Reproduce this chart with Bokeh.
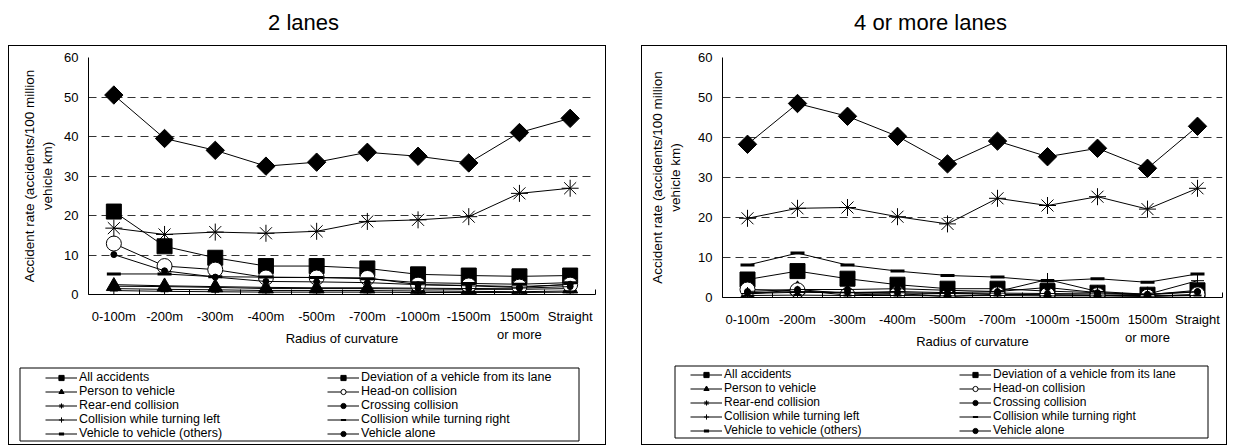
import math
from bokeh.plotting import figure
from bokeh.models import (Range1d, FixedTicker, Legend, LegendItem, Title, Spacer,
                          BoxAnnotation)
from bokeh.layouts import row, column
from bokeh.embed import file_html
from bokeh.resources import INLINE

categories = ["0-100m", "-200m", "-300m", "-400m", "-500m", "-700m",
              "-1000m", "-1500m", "1500m\nor more", "Straight"]
series_names = ["All accidents", "Deviation of a vehicle from its lane",
                "Person to vehicle", "Head-on collision",
                "Rear-end collision", "Crossing collision",
                "Collision while turning left", "Collision while turning right",
                "Vehicle to vehicle (others)", "Vehicle alone"]
y_ticks = [0, 10, 20, 30, 40, 50, 60]

# 2 lanes
all_2 = [50.5, 39.5, 36.5, 32.5, 33.5, 36.0, 35.0, 33.3, 41.0, 44.6]
dev_2 = [21.0, 12.2, 9.3, 7.2, 7.2, 6.6, 5.1, 4.8, 4.6, 4.8]
person_2 = [2.1, 2.0, 1.8, 1.5, 1.5, 1.5, 1.4, 1.3, 1.3, 1.5]
headon_2 = [12.9, 7.2, 6.3, 4.3, 4.3, 4.2, 2.5, 2.3, 2.0, 2.5]
rear_2 = [16.8, 15.2, 15.8, 15.5, 16.0, 18.5, 18.9, 19.7, 25.6, 26.9]
crossing_2 = [10.1, 6.0, 4.4, 3.3, 3.2, 3.0, 2.5, 2.2, 1.8, 2.6]
left_2 = [1.5, 1.3, 1.2, 1.0, 1.0, 1.0, 0.9, 0.8, 0.7, 0.9]
right_2 = [1.0, 0.8, 0.7, 0.6, 0.6, 0.6, 0.5, 0.5, 0.5, 0.6]
others_2 = [5.2, 5.2, 4.5, 4.4, 4.3, 4.0, 3.0, 2.8, 2.6, 3.0]
alone_2 = [2.5, 2.2, 2.0, 1.8, 1.7, 1.7, 1.6, 1.5, 1.6, 2.0]

# 4 or more lanes
all_4 = [38.3, 48.5, 45.3, 40.3, 33.4, 39.1, 35.2, 37.3, 32.3, 42.8]
dev_4 = [4.5, 6.6, 4.7, 3.2, 2.2, 2.2, 1.6, 1.2, 0.7, 1.8]
person_4 = [0.8, 2.0, 1.0, 0.8, 1.0, 0.8, 0.6, 0.5, 0.5, 0.6]
headon_4 = [2.0, 1.8, 0.6, 1.0, 0.2, 0.8, 0.7, 0.6, 0.2, 0.8]
rear_4 = [19.8, 22.3, 22.5, 20.2, 18.4, 24.8, 23.0, 25.2, 22.1, 27.3]
crossing_4 = [1.5, 2.0, 2.0, 2.2, 1.8, 1.5, 2.5, 1.2, 0.8, 1.5]
left_4 = [1.0, 1.3, 1.2, 1.5, 1.2, 1.5, 4.5, 1.5, 0.8, 4.2]
right_4 = [0.5, 0.6, 0.5, 0.5, 0.4, 0.5, 0.4, 0.4, 0.3, 0.5]
others_4 = [8.1, 11.1, 8.1, 6.6, 5.5, 5.1, 4.1, 4.7, 3.8, 5.9]
alone_4 = [1.2, 1.5, 1.3, 1.2, 1.0, 1.1, 1.0, 0.9, 0.7, 1.4]

FONT = "Liberation Sans"

# marker styles per series: (marker, size, fill, line_width, angle)
styles = [
    ("square", 13, "black", 1, math.pi / 4),
    ("square", 15, "black", 1, 0),
    ("triangle", 15, "black", 1, 0),
    ("circle", 15, "white", 1, 0),
    ("asterisk", 17, "black", 1, 0),
    ("circle", 6, "black", 1, 0),
    ("cross", 13, "black", 1, 0),
    ("dash", 8, "black", 2, 0),
    ("dash", 14, "black", 3, 0),
    ("circle", 6, "black", 1, 0),
]

# legend is filled column by column: this order reads row by row
legend_order = [0, 2, 4, 6, 8, 1, 3, 5, 7, 9]

centers = [i + 0.5 for i in range(len(categories))]
bounds = list(range(len(categories) + 1))


def add_series(p, series, visible=True):
    pairs = []
    for vals, st in zip(series, styles):
        marker, size, fill, lw, ang = st
        ln = p.line(centers, vals, line_color="black", line_width=1, visible=visible)
        sc = p.scatter(centers, vals, marker=marker, size=size, fill_color=fill,
                       line_color="black", line_width=lw, angle=ang, visible=visible)
        pairs.append((ln, sc))
    return pairs


def make_title(text, width, left):
    t = figure(width=width, height=45, output_backend="svg", toolbar_location=None,
               x_range=Range1d(0, 1), y_range=Range1d(0, 1),
               x_axis_location=None, y_axis_location=None,
               min_border_left=left, min_border_right=0, min_border_top=34,
               min_border_bottom=0)
    t.title = Title(text=text, align="center", text_font=FONT,
                    text_font_size="22px", text_font_style="normal",
                    text_color="black", standoff=0)
    t.grid.visible = False
    t.outline_line_color = None
    return t


def make_main(series, width, height, fl, fr, ft, fb, ylab_standoff):
    p = figure(width=width, height=height, output_backend="svg", toolbar_location=None,
               x_range=Range1d(0, 10), y_range=Range1d(0, 60),
               min_border_left=fl, min_border_right=fr, min_border_top=ft,
               min_border_bottom=fb)
    p.outline_line_color = None

    xa = p.xaxis[0]
    xa.ticker = FixedTicker(ticks=centers, minor_ticks=bounds)
    xa.major_label_overrides = {c: lab for c, lab in zip(centers, categories)}
    xa.major_tick_in = 0
    xa.major_tick_out = 0
    xa.minor_tick_in = 5
    xa.minor_tick_out = 0
    xa.minor_tick_line_color = "black"
    xa.axis_line_color = "black"
    xa.major_label_text_font = FONT
    xa.major_label_text_font_size = "13px"
    xa.major_label_text_color = "black"
    xa.major_label_standoff = 14
    xa.axis_label = "Radius of curvature"
    xa.axis_label_text_font = FONT
    xa.axis_label_text_font_size = "13px"
    xa.axis_label_text_font_style = "normal"
    xa.axis_label_text_color = "black"
    xa.axis_label_standoff = -14

    ya = p.yaxis[0]
    ya.ticker = FixedTicker(ticks=y_ticks)
    ya.major_tick_in = 0
    ya.major_tick_out = 0
    ya.minor_tick_in = 0
    ya.minor_tick_out = 0
    ya.axis_line_color = "black"
    ya.major_label_text_font = FONT
    ya.major_label_text_font_size = "13px"
    ya.major_label_text_color = "black"
    ya.major_label_standoff = 10
    ya.axis_label = "Accident rate (accidents/100 million\nvehicle km)"
    ya.axis_label_text_font = FONT
    ya.axis_label_text_font_size = "13.5px"
    ya.axis_label_text_font_style = "normal"
    ya.axis_label_text_color = "black"
    ya.axis_label_standoff = ylab_standoff

    p.xgrid.visible = False
    p.ygrid.grid_line_color = "#333333"
    p.ygrid.grid_line_dash = "8 5"
    p.ygrid.grid_line_width = 1

    add_series(p, series)
    return p


def make_legend_fig(series, width, height, box, loc, font, label_width):
    # the legend sits in its own small figure (one screen pixel per unit)
    lf = figure(width=width, height=height, output_backend="svg",
                toolbar_location=None,
                x_range=Range1d(0, width), y_range=Range1d(0, height),
                x_axis_location=None, y_axis_location=None,
                min_border=0, min_border_left=0, min_border_right=0,
                min_border_top=0, min_border_bottom=0)
    lf.grid.visible = False
    lf.outline_line_color = None
    pairs = add_series(lf, series, visible=False)
    items = [LegendItem(label=series_names[i], renderers=list(pairs[i]))
             for i in legend_order]
    legend = Legend(items=items, location=loc, ncols=2, click_policy="none",
                    label_text_font=FONT, label_text_font_size=font,
                    label_text_color="black",
                    glyph_width=32, glyph_height=13, label_height=13,
                    label_standoff=2, spacing=0, padding=0, margin=0,
                    label_width=label_width,
                    border_line_alpha=0, background_fill_alpha=0)
    lf.add_layout(legend)
    l, r, t, b = box
    lf.add_layout(BoxAnnotation(left=l, right=r, top=t, bottom=b,
                                fill_alpha=0, line_color="black", line_width=1,
                                line_alpha=1))
    return lf


PANEL_STYLE = {"outline": "1px solid black"}

t1 = make_title("2 lanes", 606, 0)
t2 = make_title("4 or more lanes", 628, 20)

m1 = make_main([all_2, dev_2, person_2, headon_2, rear_2, crossing_2, left_2,
                right_2, others_2, alone_2], 596, 309, 79, 10, 11, 61, 6)
l1 = make_legend_fig([all_2, dev_2, person_2, headon_2, rear_2, crossing_2, left_2,
                      right_2, others_2, alone_2], 596, 89,
                     (10.5, 569.5, 76.5, 3.5), (36, 4), "12.5px", 248)
m2 = make_main([all_4, dev_4, person_4, headon_4, rear_4, crossing_4, left_4,
                right_4, others_4, alone_4], 584, 309, 80, 4, 11, 58, 12)
l2 = make_legend_fig([all_4, dev_4, person_4, headon_4, rear_4, crossing_4, left_4,
                      right_4, others_4, alone_4], 584, 89,
                     (32.5, 565.5, 78.5, 6.5), (48, 7), "12px", 235)

# wrap each legend figure in its own row so its frame is not aligned to the chart's
panel1 = column(row(m1), row(l1), styles=PANEL_STYLE)
panel2 = column(row(m2), row(l2), styles=PANEL_STYLE)

layout = column(row(t1, t2), Spacer(height=1),
                row(Spacer(width=9), panel1, Spacer(width=37), panel2))
open("out.html", "w").write(file_html(layout, INLINE))
